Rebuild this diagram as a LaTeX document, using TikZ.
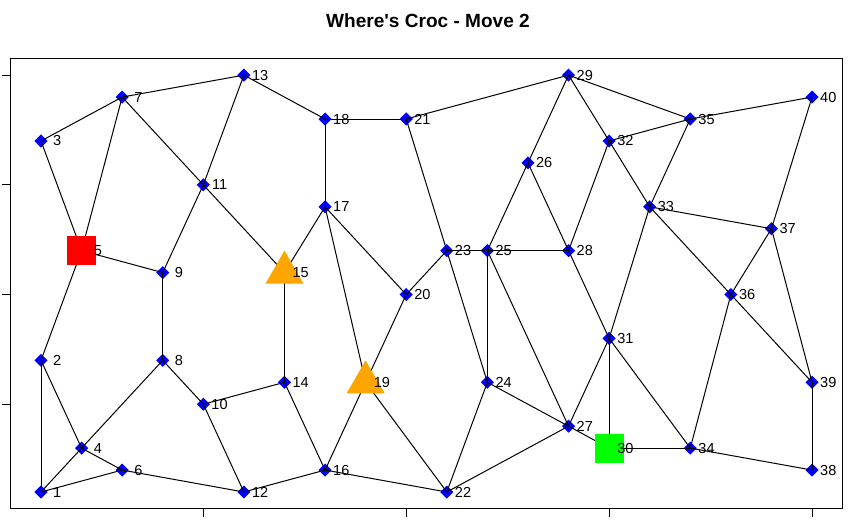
\documentclass[tikz,border=0pt]{standalone}
\usepackage{fontspec}
\setmainfont{Liberation Sans}
\newfontfamily\titlefont{Liberation Sans Bold}[Ligatures=ResetAll]
\usetikzlibrary{shapes.geometric}
\definecolor{pblue}{RGB}{0,0,255}
\definecolor{pred}{RGB}{255,0,0}
\definecolor{pgreen}{RGB}{0,255,0}
\definecolor{porange}{RGB}{255,165,0}
\tikzset{
  dia/.style={diamond,fill=pblue,inner sep=0pt,minimum width=10pt,minimum height=10pt},
  edge/.style={draw=black,line width=0.75pt},
  sqmark/.style={rectangle,inner sep=0pt,minimum size=21.75pt},
  trimark/.style={regular polygon,regular polygon sides=3,fill=porange,inner sep=0pt,minimum size=32.9pt},
  lab/.style={inner sep=0pt,font=\fontsize{10.9}{13}\selectfont},
  tick/.style={draw=black,line width=0.75pt},
}
\begin{document}
\begin{tikzpicture}[x=0.75pt,y=-0.75pt]
\useasboundingbox (0,0) rectangle (853,520);
\fill[white] (0,0) rectangle (853,520);
\node[font=\fontsize{14.3}{16}\titlefont] (title) at (428,21) {Where's Croc - Move 2};
\begin{scope}[shift={(0.42,513.94)},x=30.435pt,y=16.455pt]
  \draw[tick] (0.24,0.24) rectangle (20.76,20.76);
  \foreach \t in {5,10,15,20} {
    \draw[tick] (0.24,\t) -- ++(-6pt,0);
    \draw[tick] (\t,0.24) -- ++(0,-6pt);
  }
  \foreach \n/\x/\y in {1/1/1,2/1/7,3/1/17,4/2/3,6/3/2,7/3/19,8/4/7,9/4/11,10/5/5,11/5/15,12/6/1,13/6/20,14/7/6,16/8/2,17/8/14,18/8/18,20/10/10,21/10/18,22/11/1,23/11/12,24/12/6,25/12/12,26/13/16,27/14/4,28/14/12,29/14/20,31/15/8,32/15/17,33/16/14,34/17/3,35/17/18,36/18/10,37/19/13,38/20/2,39/20/6,40/20/19}
    \node[dia] (n\n) at (\x,\y) {};
  \coordinate (n5) at (2,12);
  \coordinate (n15) at (7,11);
  \coordinate (n19) at (9,6);
  \coordinate (n30) at (15,3);
  \foreach \a/\b in {1/2,1/4,1/6,2/4,2/5,3/5,3/7,4/6,4/8,5/7,5/9,6/12,7/13,7/11,8/9,8/10,9/11,10/12,10/14,11/13,11/15,12/16,13/18,14/15,14/16,15/17,16/19,16/22,17/18,17/19,17/20,18/21,19/20,19/22,20/23,21/23,23/24,21/29,22/24,22/27,23/25,24/25,24/27,25/26,25/27,25/28,26/28,26/29,27/30,27/31,28/31,28/32,29/32,29/35,30/31,30/34,31/33,31/34,32/33,32/35,33/35,33/36,33/37,34/36,34/38,35/40,36/37,36/39,37/39,37/40,38/39}
    \draw[edge] (n\a.center) -- (n\b.center);
  \node[sqmark,fill=pred] (m5) at (n5) {};
  \node[sqmark,fill=pgreen] (m30) at (n30) {};
  \node[trimark] (m15) at (n15) {};
  \node[trimark] (m19) at (n19) {};
  \foreach \n/\x/\y in {1/1/1,2/1/7,3/1/17,4/2/3,5/2/12,6/3/2,7/3/19,8/4/7,9/4/11,10/5/5,11/5/15,12/6/1,13/6/20,14/7/6,15/7/11,16/8/2,17/8/14,18/8/18,19/9/6,20/10/10,21/10/18,22/11/1,23/11/12,24/12/6,25/12/12,26/13/16,27/14/4,28/14/12,29/14/20,30/15/3,31/15/8,32/15/17,33/16/14,34/17/3,35/17/18,36/18/10,37/19/13,38/20/2,39/20/6,40/20/19}
    \node[lab] (l\n) at (\x+0.4,\y) {\n};
\end{scope}
\end{tikzpicture}
\end{document}
